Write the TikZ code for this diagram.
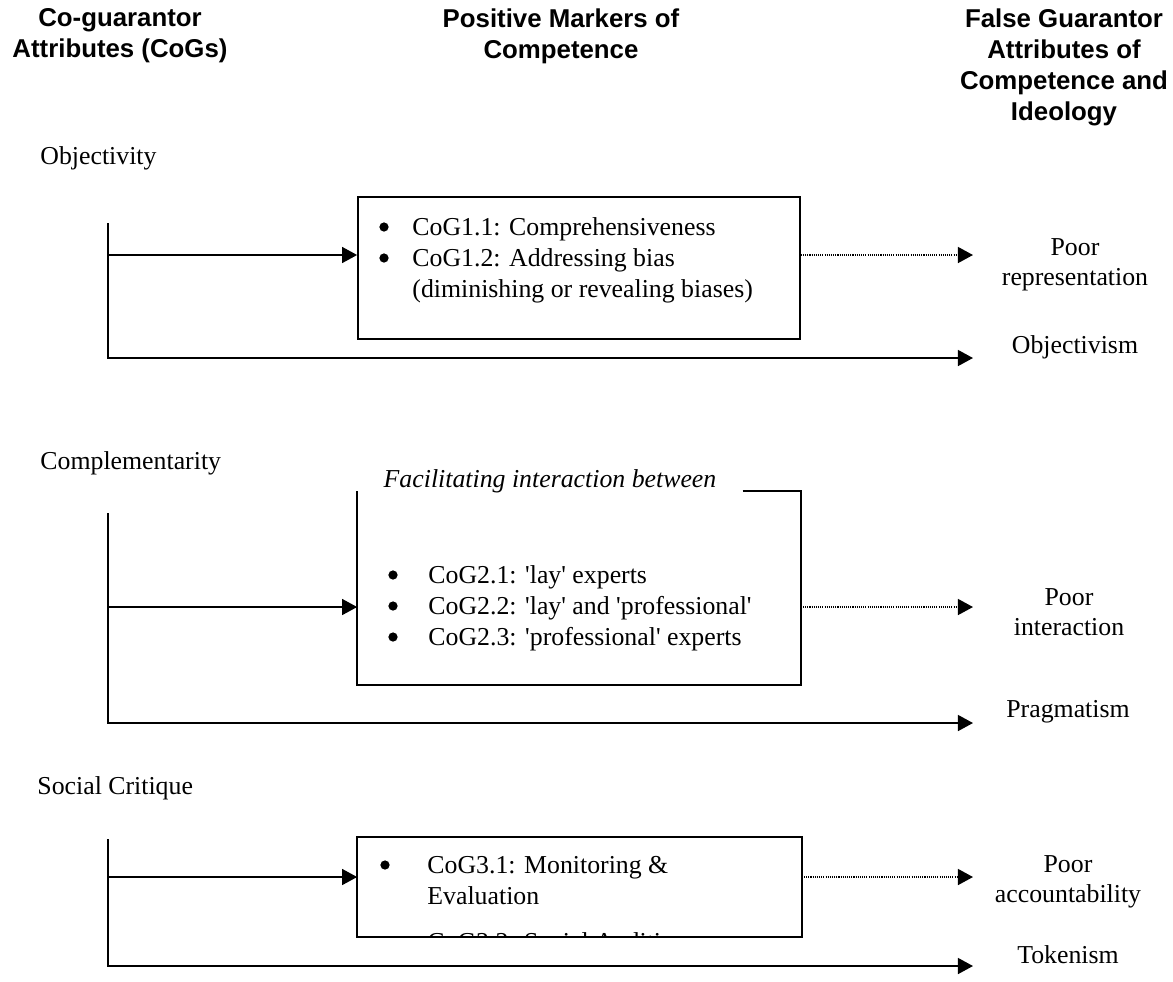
\documentclass[tikz,border=0pt]{standalone}
\usepackage{fontspec}
\setmainfont{Liberation Serif}
\setsansfont{Liberation Sans}
\usetikzlibrary{arrows.meta,fit}

\newcommand{\sq}{\textquotesingle}

\tikzset{
    head/.style={font=\sffamily\bfseries\fontsize{12}{14.4}\selectfont, align=center, inner sep=0pt},
    lbl/.style={font=\fontsize{12}{14}\selectfont, inner sep=0pt},
    fgl/.style={lbl, align=center},
    dot/.style={circle, fill, inner sep=0pt, minimum size=4.3pt},
    markbox/.style={line width=0.8pt, inner sep=0pt},
    link/.style={line width=0.8pt, -{Triangle[length=7pt,width=7.4pt]}},
    weak/.style={link, dash pattern=on 0.5pt off 0.5pt}
}

\begin{document}
\begin{tikzpicture}[x=0.465pt,y=-0.465pt]
    \useasboundingbox (0,0) rectangle (1173,981);

    % column heads
    \node[head] (h1) at (120,36) {Co-guarantor\\Attributes (CoGs)};
    \node[head] (h2) at (561,36) {Positive Markers of\\Competence};
    \node[head] (h3) at (1064,67) {False Guarantor\\Attributes of\\Competence and\\Ideology};

    % objectivity
    \node[lbl, anchor=west] (obj) at (40,158) {Objectivity};
    \node[markbox, draw, fit={(358,197) (800,339)}] (box1) {};
    \node[dot] (d11) at (384,227) {};
    \node[dot] (d12) at (384,258) {};
    \node[lbl, anchor=base west] (m11) at (412,235) {CoG1.1: Comprehensiveness};
    \node[lbl, anchor=base west] (m12) at (412,266) {CoG1.2: Addressing bias};
    \node[lbl, anchor=base west] (m12b) at (412,297) {(diminishing or revealing biases)};
    \node[fgl] (poor1) at (1075,265) {Poor\\representation};
    \node[fgl] (objism) at (1075,347) {Objectivism};
    \coordinate (v1) at (108,223);
    \coordinate (a1) at (108,255);
    \coordinate (e1) at (973,358);
    \draw[link] (v1) -- (v1 |- e1) -- (e1);
    \draw[link] (a1) -- (a1 -| box1.west);
    \draw[weak] (a1 -| box1.east) -- (a1 -| e1);

    % complementarity
    \node[lbl, anchor=west] (comp) at (40,463) {Complementarity};
    \node[markbox, fit={(358,492) (800,684)}] (box2) {};
    \node[lbl, font=\itshape\fontsize{12}{14}\selectfont, inner xsep=12.1pt] (fac) at (550,481) {Facilitating interaction between};
    \draw[line width=0.8pt] (fac.east |- box2.north) -- (box2.north east) -- (box2.south east)
        -- (box2.south west) -- (box2.north west);
    \node[dot] (d21) at (393,575) {};
    \node[dot] (d22) at (393,606) {};
    \node[dot] (d23) at (393,637) {};
    \node[lbl, anchor=base west] (m21) at (428,583) {CoG2.1: \sq lay\sq{} experts};
    \node[lbl, anchor=base west] (m22) at (428,614) {CoG2.2: \sq lay\sq{} and \sq professional\sq};
    \node[lbl, anchor=base west] (m23) at (428,645) {CoG2.3: \sq professional\sq{} experts};
    \node[fgl] (poor2) at (1069,612) {Poor\\interaction};
    \node[fgl] (prag) at (1068,712) {Pragmatism};
    \coordinate (v2) at (108,513);
    \coordinate (a2) at (108,607);
    \coordinate (e2) at (973,723);
    \draw[link] (v2) -- (v2 |- e2) -- (e2);
    \draw[link] (a2) -- (a2 -| box2.west);
    \draw[weak] (a2 -| box2.east) -- (a2 -| e2);

    % social critique
    \node[lbl, anchor=west] (soc) at (37,788) {Social Critique};
    \node[markbox, fit={(358,838) (801,936)}] (box3) {};
    \begin{scope}
        \clip (box3.north west) rectangle (box3.south east);
        \node[dot] (d31) at (385,865) {};
        \node[lbl, anchor=base west] (m31) at (427,873) {CoG3.1: Monitoring \&};
        \node[lbl, anchor=base west] (m31b) at (427,904) {Evaluation};
        \node[lbl, anchor=base west] (m32) at (427,950) {CoG3.2: Social Auditing};
    \end{scope}
    \draw[line width=0.8pt] (box3.north west) rectangle (box3.south east);
    \node[fgl] (poor3) at (1068,882) {Poor\\accountability};
    \node[fgl] (token) at (1068,955) {Tokenism};
    \coordinate (v3) at (108,839);
    \coordinate (a3) at (108,877);
    \coordinate (e3) at (973,966);
    \draw[link] (v3) -- (v3 |- e3) -- (e3);
    \draw[link] (a3) -- (a3 -| box3.west);
    \draw[weak] (a3 -| box3.east) -- (a3 -| e3);
\end{tikzpicture}
\end{document}
